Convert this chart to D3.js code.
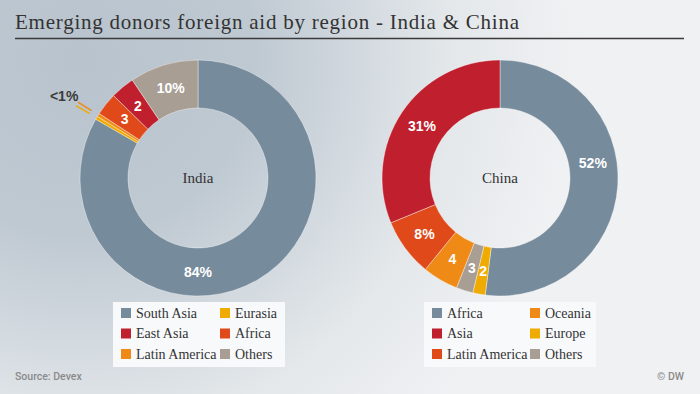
<!DOCTYPE html>
<html>
<head>
<meta charset="utf-8">
<script src="https://cdn.jsdelivr.net/npm/d3@7"></script>
<style>
  body { margin: 0; padding: 0; overflow: hidden; }
  svg { display: block; }
</style>
</head>
<body>
<svg width="700" height="394"></svg>
<script>
// Data (slice sizes in %, labels as printed)
const indiaRegions = ['South Asia', 'Eurasia', 'Latin America', 'Africa', 'East Asia', 'Others'];
const indiaValues = [83.3, 0.45, 0.45, 3.1, 3.3, 9.4];
const indiaLabels = ['84%', '', '', '3', '2', '10%'];
const indiaLegend = ['South Asia', 'East Asia', 'Latin America', 'Eurasia', 'Africa', 'Others'];

const chinaRegions = ['Africa', 'Europe', 'Others', 'Oceania', 'Latin America', 'Asia'];
const chinaValues = [52, 1.7, 2.3, 4.9, 7.9, 31.2];
const chinaLabels = ['52%', '2', '3', '4', '8%', '31%'];
const chinaLegend = ['Africa', 'Asia', 'Latin America', 'Oceania', 'Europe', 'Others'];

const colors = {
    'South Asia': '#768b9c',
    'East Asia': '#c0202e',
    'Latin America': '#ef8a17',
    'Eurasia': '#f0ab00',
    'Africa': '#e0491a',
    'Others': '#a89e94'
};
const chinaColors = {
    'Africa': '#768b9c',
    'Asia': '#c0202e',
    'Latin America': '#e0491a',
    'Oceania': '#ef8a17',
    'Europe': '#f0ab00',
    'Others': '#a89e94'
};

const W = 700, H = 394;
const outerR = 118, innerR = 70;
const serif = '"Liberation Serif", "DejaVu Serif", serif';
const sans = '"Liberation Sans", Arial, sans-serif';

const svg = d3.select('svg');

// background gradient
const defs = svg.append('defs');
const grad = defs.append('radialGradient')
    .attr('id', 'bg')
    .attr('gradientUnits', 'userSpaceOnUse')
    .attr('cx', 80).attr('cy', 60).attr('r', 500);
grad.append('stop').attr('offset', 0).attr('stop-color', '#b8c3cd');
grad.append('stop').attr('offset', 0.35).attr('stop-color', '#bfc9d2');
grad.append('stop').attr('offset', 0.75).attr('stop-color', '#e4e8eb');
grad.append('stop').attr('offset', 1).attr('stop-color', '#f0f1f3');
svg.append('rect').attr('width', W).attr('height', H).attr('fill', 'url(#bg)');

// title
svg.append('text')
    .attr('x', 15).attr('y', 29)
    .attr('font-family', serif)
    .attr('font-size', 21)
    .attr('fill', '#333')
    .attr('textLength', 504)
    .text('Emerging donors foreign aid by region - India & China');
svg.append('line')
    .attr('x1', 15).attr('x2', 684).attr('y1', 38.5).attr('y2', 38.5)
    .attr('stroke', '#3a3a3a').attr('stroke-width', 1.5);

const pie = d3.pie().sort(null).value(d => d);
const arc = d3.arc().innerRadius(innerR).outerRadius(outerR);
const labelArc = d3.arc().innerRadius(94).outerRadius(94);

function drawDonut(cx, name, regions, values, labels, colorMap, bigLabelAngle) {
    const g = svg.append('g').attr('transform', 'translate(' + cx + ',178)');
    const arcs = pie(values);

    g.selectAll('path.slice')
        .data(arcs).enter()
        .append('path')
        .attr('class', 'slice')
        .attr('d', arc)
        .attr('fill', (d, i) => colorMap[regions[i]])
        .attr('stroke', 'rgba(255,255,255,0.55)')
        .attr('stroke-width', 0.7);

    g.selectAll('text.val')
        .data(arcs).enter()
        .append('text')
        .attr('class', 'val')
        .attr('transform', (d, i) => {
            let p;
            if (i === 0) {
                const a = bigLabelAngle * Math.PI / 180;
                p = [94 * Math.sin(a), -94 * Math.cos(a)];
            } else {
                p = labelArc.centroid(d);
            }
            return 'translate(' + p[0] + ',' + p[1] + ')';
        })
        .attr('text-anchor', 'middle')
        .attr('dy', '0.36em')
        .attr('font-family', sans)
        .attr('font-weight', 'bold')
        .attr('font-size', 14)
        .attr('fill', '#fff')
        .text((d, i) => labels[i]);

    g.append('text')
        .attr('text-anchor', 'middle')
        .attr('y', 5)
        .attr('font-family', serif)
        .attr('font-size', 15)
        .attr('fill', '#333')
        .text(name);

    return { g: g, arcs: arcs };
}

const india = drawDonut(198, 'India', indiaRegions, indiaValues, indiaLabels, colors, 180);
drawDonut(500, 'China', chinaRegions, chinaValues, chinaLabels, chinaColors, 81);

// leader lines for the two tiny India slices
const tiny = india.arcs.filter((d, i) => indiaLabels[i] === '' );
india.g.selectAll('line.leader')
    .data(tiny).enter()
    .append('line')
    .attr('x1', d => 126 * Math.sin((d.startAngle + d.endAngle) / 2))
    .attr('y1', d => -126 * Math.cos((d.startAngle + d.endAngle) / 2))
    .attr('x2', d => 142 * Math.sin((d.startAngle + d.endAngle) / 2))
    .attr('y2', d => -142 * Math.cos((d.startAngle + d.endAngle) / 2))
    .attr('stroke', (d, i) => colors[indiaRegions[d.index]])
    .attr('stroke-width', 1.5);
{
    const a = (tiny[0].startAngle + tiny[1].endAngle) / 2;
    india.g.append('text')
        .attr('x', 157 * Math.sin(a))
        .attr('y', -157 * Math.cos(a))
        .attr('dy', '0.36em')
        .attr('text-anchor', 'middle')
        .attr('font-family', sans)
        .attr('font-weight', 'bold')
        .attr('font-size', 14)
        .attr('fill', '#3a3a3a')
        .text('<1%');
}

// legends
function drawLegend(x, items, colorMap, col2) {
    const g = svg.append('g').attr('transform', 'translate(' + x + ',302)');
    g.append('rect')
        .attr('width', 172).attr('height', 65)
        .attr('fill', '#f8f9fb');
    const rows = g.selectAll('g.item')
        .data(items).enter()
        .append('g')
        .attr('class', 'item')
        .attr('transform', (d, i) => 'translate(' + (i < 3 ? 8 : col2) + ',' + (11 + (i % 3) * 20.5) + ')');
    rows.append('rect')
        .attr('y', -5).attr('width', 10).attr('height', 10)
        .attr('fill', d => colorMap[d]);
    rows.append('text')
        .attr('x', 15)
        .attr('dy', '0.35em')
        .attr('font-family', serif)
        .attr('font-size', 14)
        .attr('fill', '#333')
        .text(d => d);
}
drawLegend(113, indiaLegend, colors, 107);
drawLegend(424, chinaLegend, chinaColors, 106);

// footer
svg.append('text')
    .attr('x', 15).attr('y', 380)
    .attr('font-family', 'Roboto, sans-serif')
    .attr('font-weight', 500)
    .attr('font-size', 10.5)
    .attr('fill', '#8a8a8a')
    .text('Source: Devex');
svg.append('text')
    .attr('x', 684).attr('y', 380)
    .attr('text-anchor', 'end')
    .attr('font-family', 'Roboto, sans-serif')
    .attr('font-weight', 500)
    .attr('font-size', 10.5)
    .attr('fill', '#8a8a8a')
    .text('© DW');
</script>
</body>
</html>
